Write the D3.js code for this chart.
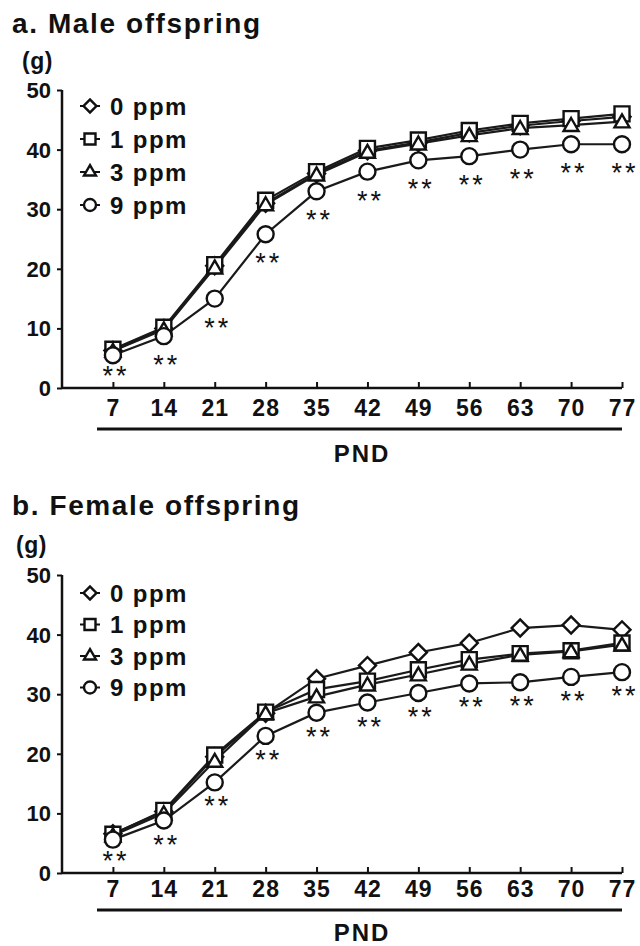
<!DOCTYPE html>
<html>
<head>
<meta charset="utf-8">
<script src="https://cdn.jsdelivr.net/npm/d3@7"></script>
<style>
  html, body { margin: 0; padding: 0; background: #fff; }
  svg { display: block; }
  text { font-family: "Liberation Sans", Arial, Helvetica, sans-serif; fill: #111; }
</style>
</head>
<body>
<svg id="chart" width="640" height="946"></svg>
<script>
// ---------------- DATA ----------------
const pnd = [7, 14, 21, 28, 35, 42, 49, 56, 63, 70, 77];
const yTicks = [0, 10, 20, 30, 40, 50];
const doseLabels = ["0 ppm", "1 ppm", "3 ppm", "9 ppm"];
const panelTitles = ["a. Male offspring", "b. Female offspring"];
const yUnit = "(g)";
const xLabel = "PND";

// Male offspring body weight (g)
const male0 = [6.3, 10.0, 20.5, 31.0, 36.0, 39.8, 41.2, 42.8, 44.0, 44.8, 45.5];
const male1 = [6.5, 10.2, 20.7, 31.5, 36.3, 40.2, 41.6, 43.2, 44.4, 45.2, 46.0];
const male3 = [6.2, 9.8, 20.2, 30.8, 35.8, 39.6, 41.0, 42.4, 43.6, 44.1, 44.7];
const male9 = [5.5, 8.7, 15.0, 25.8, 33.0, 36.3, 38.2, 38.9, 40.0, 40.9, 40.9];
const maleSig9 = ["**", "**", "**", "**", "**", "**", "**", "**", "**", "**", "**"];

// Female offspring body weight (g)
const female0 = [6.6, 10.3, 19.5, 26.8, 32.6, 34.8, 37.0, 38.6, 41.1, 41.6, 40.8];
const female1 = [6.5, 10.5, 19.8, 27.0, 30.8, 32.2, 34.1, 35.8, 36.8, 37.3, 38.6];
const female3 = [6.3, 10.0, 18.8, 26.8, 29.6, 31.6, 33.3, 35.1, 36.6, 37.2, 38.3];
const female9 = [5.6, 8.8, 15.2, 23.0, 26.9, 28.6, 30.2, 31.8, 32.0, 32.9, 33.7];
const femaleSig9 = ["**", "**", "**", "**", "**", "**", "**", "**", "**", "**", "**"];

// ---------------- DRAW ----------------
const svg = d3.select("#chart");
const FONT = '"Liberation Sans", Arial, Helvetica, sans-serif';

const symbolTypes = ["diamond", "square", "triangle", "circle"];

function symbolPath(type, s) {
  if (type === "diamond") {
    const side = s / Math.SQRT2;
    return { d: d3.symbol(d3.symbolSquare, side * side)(), rot: 45 };
  }
  if (type === "square") return { d: d3.symbol(d3.symbolSquare, s * s)(), rot: 0 };
  if (type === "triangle") return { d: d3.symbol(d3.symbolTriangle, Math.sqrt(3) / 4 * s * s)(), rot: 0 };
  return { d: d3.symbol(d3.symbolCircle, Math.PI * (s / 2) * (s / 2))(), rot: 0 };
}
const markerSize = { diamond: 17, square: 15, triangle: 15, circle: 16 };
const legendSize = { diamond: 13, square: 11, triangle: 12, circle: 12 };

function drawPanel(cfg, series, sig) {
  const g = svg.append("g");
  const x = d3.scaleLinear().domain([0, 77]).range([62, 622]);
  const y = d3.scaleLinear().domain([0, 50]).range([cfg.y0, cfg.y50]);

  // title
  g.append("text").attr("x", 12).attr("y", cfg.titleY)
    .style("font-size", "28px").style("font-weight", "bold").style("letter-spacing", "1.6px")
    .text(cfg.title);
  g.append("text").attr("x", cfg.gX).attr("y", cfg.gY).attr("dominant-baseline", "central")
    .style("font-size", "23px").style("font-weight", "bold").style("letter-spacing", "0.5px")
    .text(yUnit);

  // Y axis
  const yAxis = d3.axisLeft(y).tickValues(yTicks).tickSize(5).tickPadding(6).tickFormat(d3.format("d"));
  const ya = g.append("g").attr("transform", "translate(62,0)").call(yAxis);
  ya.select(".domain").attr("d", `M0,${cfg.y50}V${cfg.y0}`).attr("stroke", "#111").attr("stroke-width", 2.5);
  ya.selectAll(".tick line").attr("stroke", "#111").attr("stroke-width", 2);
  ya.selectAll(".tick text").style("font-family", FONT).style("font-size", "22px")
    .style("font-weight", "bold").attr("fill", "#111").attr("dy", "0.34em");

  // X axis (ticks pointing inward)
  const xAxis = d3.axisBottom(x).tickValues(pnd).tickSize(-6).tickPadding(0).tickFormat(d3.format("d"));
  const xa = g.append("g").attr("transform", `translate(0,${cfg.y0})`).call(xAxis);
  xa.select(".domain").attr("d", "M62,0H622").attr("stroke", "#111").attr("stroke-width", 2.5);
  xa.selectAll(".tick line").attr("stroke", "#111").attr("stroke-width", 2);
  xa.selectAll(".tick text").attr("y", cfg.tickLabelOff).attr("dy", "0.35em")
    .style("font-family", FONT).style("font-size", "23px").style("font-weight", "bold")
    .style("letter-spacing", "1px").attr("fill", "#111");

  // underline and PND label
  g.append("line").attr("x1", 97).attr("x2", 622).attr("y1", cfg.underY).attr("y2", cfg.underY)
    .attr("stroke", "#111").attr("stroke-width", 3);
  g.append("text").attr("x", 362).attr("y", cfg.pndY).attr("text-anchor", "middle")
    .attr("dominant-baseline", "central")
    .style("font-size", "24px").style("font-weight", "bold").style("letter-spacing", "2px")
    .text(xLabel);

  // lines
  const line = d3.line().x((d, i) => x(pnd[i])).y(d => y(d));
  series.forEach((vals) => {
    g.append("path").datum(vals).attr("d", line).attr("fill", "none")
      .attr("stroke", "#1a1a1a").attr("stroke-width", 2.2);
  });
  // markers
  series.forEach((vals, si) => {
    const t = symbolTypes[si];
    const sp = symbolPath(t, markerSize[t]);
    g.append("g").selectAll("path").data(vals).join("path")
      .attr("d", sp.d)
      .attr("transform", (d, i) => `translate(${x(pnd[i])},${y(d) + (t === "triangle" ? 1.5 : 0)}) rotate(${sp.rot})`)
      .attr("fill", "#fff").attr("stroke", "#111").attr("stroke-width", 2.4);
  });
  // significance asterisks under 9 ppm
  const v9 = series[3];
  g.append("g").selectAll("text").data(sig).join("text")
    .attr("x", (d, i) => x(pnd[i]) + 3)
    .attr("y", (d, i) => Math.min(y(v9[i]) + cfg.astOff + 15, cfg.y0 - 3))
    .attr("text-anchor", "middle")
    .style("font-family", FONT).style("font-size", "27px").style("letter-spacing", "3px")
    .attr("fill", "#222")
    .text(d => d);

  // legend
  doseLabels.forEach((lab, li) => {
    const ly = cfg.legY + li * cfg.legStep;
    const t = symbolTypes[li];
    const sp = symbolPath(t, legendSize[t]);
    g.append("line").attr("x1", 80).attr("x2", 100).attr("y1", ly).attr("y2", ly)
      .attr("stroke", "#111").attr("stroke-width", 2);
    g.append("path").attr("d", sp.d)
      .attr("transform", `translate(90,${ly}) rotate(${sp.rot})`)
      .attr("fill", "#fff").attr("stroke", "#111").attr("stroke-width", 2.4);
    g.append("text").attr("x", 110).attr("y", ly).attr("dominant-baseline", "central")
      .style("font-size", "24px").style("font-weight", "bold").style("letter-spacing", "1.4px")
      .text(lab);
  });
}

drawPanel({
  title: panelTitles[0], titleY: 33, gX: 22, gY: 61,
  y0: 388, y50: 90, tickLabelOff: 20, underY: 429, pndY: 453,
  astOff: 23, legY: 106, legStep: 33
}, [male0, male1, male3, male9], maleSig9);

drawPanel({
  title: panelTitles[1], titleY: 515, gX: 16, gY: 545,
  y0: 873, y50: 575, tickLabelOff: 16, underY: 910, pndY: 932,
  astOff: 18, legY: 593, legStep: 31.5
}, [female0, female1, female3, female9], femaleSig9);
</script>
</body>
</html>
